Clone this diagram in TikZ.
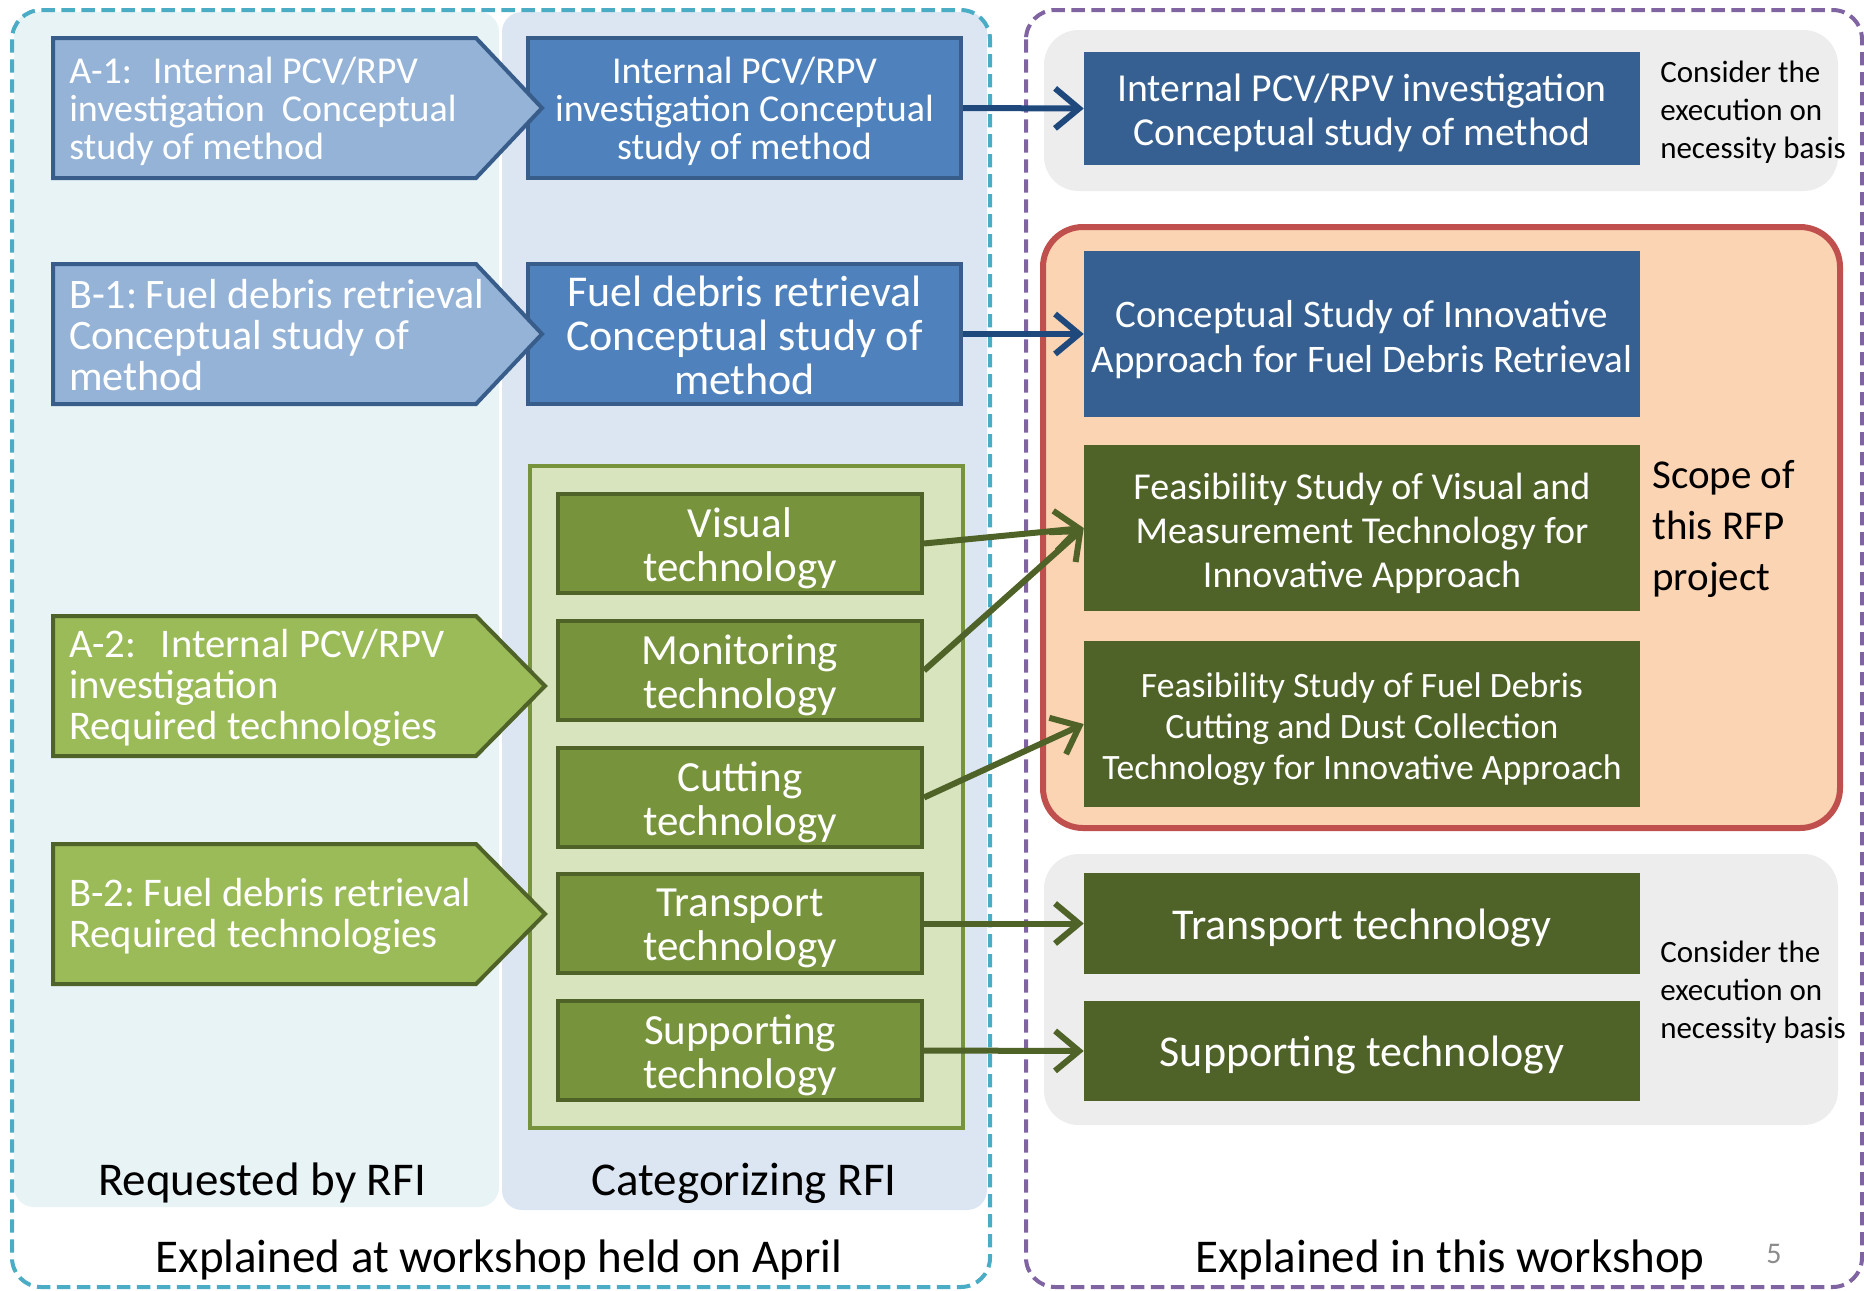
\documentclass[tikz,border=0pt]{standalone}
\usepackage{fontspec}
\setmainfont{Carlito}
\usetikzlibrary{arrows.meta}
\definecolor{reqbg}{HTML}{E8F3F6}
\definecolor{catbg}{HTML}{DCE6F2}
\definecolor{cyanD}{HTML}{4BACC6}
\definecolor{purpD}{HTML}{8064A2}
\definecolor{graybg}{HTML}{EDEDED}
\definecolor{peach}{HTML}{FBD4B4}
\definecolor{redB}{HTML}{C0504D}
\definecolor{bluelt}{HTML}{95B3D7}
\definecolor{bluemid}{HTML}{4F81BD}
\definecolor{bluedk}{HTML}{385D8A}
\definecolor{bluedeep}{HTML}{376092}
\definecolor{arrowblue}{HTML}{1F497D}
\definecolor{greenlt}{HTML}{D7E4BD}
\definecolor{greenpent}{HTML}{9BBB59}
\definecolor{greenmid}{HTML}{77933C}
\definecolor{greendk}{HTML}{4F6228}
\definecolor{pagenum}{HTML}{8C8C8C}
\tikzset{
  midbox/.style={draw=bluedk, fill=bluemid, line width=3pt,
    inner sep=0pt, minimum width=324.75pt, minimum height=105pt},
  techbox/.style={draw=greendk, fill=greenmid, line width=3pt,
    inner sep=0pt, minimum width=273pt, minimum height=74.25pt},
  rbox/.style={inner sep=0pt, minimum width=417pt},
  btext/.style={text=white, align=center, inner sep=0pt},
  techtext/.style={btext, yshift=-3.5pt, font=\fontsize{32.25}{33}\selectfont},
  ptext/.style={text=white, align=left, inner sep=0pt, anchor=west},
  bluearrow/.style={draw=arrowblue, line width=4.5pt, -{Straight Barb[length=18pt,width=30pt]}},
  greenarrow/.style={draw=greendk, line width=4.5pt, -{Straight Barb[length=18pt,width=30pt]}},
  note/.style={align=left, inner sep=0pt, anchor=west, text=black},
  caption/.style={inner sep=0pt, text=black, font=\fontsize{35.25}{40}\selectfont}
}
\begin{document}
\begin{tikzpicture}[x=0.75pt,y=-0.75pt]
\useasboundingbox (0,0) rectangle (1864,1290);
\fill[white] (0,0) rectangle (1864,1290);

% left group panels
\fill[reqbg, rounded corners=15pt] (14,12) rectangle (499,1207);
\fill[catbg, rounded corners=15pt] (502,12) rectangle (987,1210);
\draw[cyanD, line width=3pt, dash pattern=on 10pt off 5pt, rounded corners=22pt] (12,10) rectangle (990,1287);

% right group panels
\draw[purpD, line width=3pt, dash pattern=on 10pt off 5pt, rounded corners=22pt] (1026,10) rectangle (1862,1287);
\fill[graybg, rounded corners=26pt] (1044,30) rectangle (1838,191);
\filldraw[fill=peach, draw=redB, line width=4.5pt, rounded corners=30pt] (1043,227) rectangle (1840,828);
\fill[graybg, rounded corners=26pt] (1044,854) rectangle (1838,1125);

% green container
\filldraw[fill=greenlt, draw=greenmid, line width=2.5pt] (530,466) rectangle (963,1128);

% middle boxes
\node[midbox] (m1) at (744.5,108) {};
\node[btext, yshift=-2.5pt, font=\fontsize{28.5}{28.5}\selectfont] (m1t) at (m1.center)
  {Internal PCV/RPV\\investigation Conceptual\\study of method};
\node[midbox] (m2) at (744.5,334) {};
\node[btext, yshift=-1pt, font=\fontsize{33}{33}\selectfont] (m2t) at (m2.center)
  {Fuel debris retrieval\\Conceptual study of\\method};

\node[techbox] (vis) at (740,543.5) {};
\node[techtext] (vist) at (vis.center) {Visual\\technology};
\node[techbox] (mon) at (740,670.5) {};
\node[techtext] (mont) at (mon.center) {Monitoring\\technology};
\node[techbox] (cut) at (740,797.5) {};
\node[techtext] (cutt) at (cut.center) {Cutting\\technology};
\node[techbox] (tra) at (740,923.5) {};
\node[techtext] (trat) at (tra.center) {Transport\\technology};
\node[techbox] (sup) at (740,1050.5) {};
\node[techtext] (supt) at (sup.center) {Supporting\\technology};

% pentagons
\filldraw[fill=bluelt, draw=bluedk, line width=3pt, line join=miter]
  (53,38) -- (476,38) -- (542,108) -- (476,178) -- (53,178) -- cycle;
\node[ptext, yshift=-1.5pt, font=\fontsize{28.5}{28.5}\selectfont] (a1) at (69,109)
  {A-1:\hspace{0.55em}Internal PCV/RPV\\investigation\ \ Conceptual\\study of method};
\filldraw[fill=bluelt, draw=bluedk, line width=3pt, line join=miter]
  (53,264) -- (476,264) -- (542,334) -- (476,404) -- (53,404) -- cycle;
\node[ptext, font=\fontsize{31.5}{30.75}\selectfont] (b1) at (69,335)
  {B-1:\hspace{0.2em}Fuel debris retrieval\\Conceptual study of\\method};
\filldraw[fill=greenpent, draw=greendk, line width=3pt, line join=miter]
  (53,616) -- (476,616) -- (545,686) -- (476,756) -- (53,756) -- cycle;
\node[ptext, yshift=-1pt, font=\fontsize{30.5}{30.75}\selectfont] (a2) at (69,687)
  {A-2:\hspace{0.6em}Internal PCV/RPV\\investigation\\Required technologies};
\filldraw[fill=greenpent, draw=greendk, line width=3pt, line join=miter]
  (53,844) -- (476,844) -- (545,914) -- (476,984) -- (53,984) -- cycle;
\node[ptext, yshift=-1pt, font=\fontsize{30.5}{30.75}\selectfont] (b2) at (69,915)
  {B-2:\hspace{0.2em}Fuel debris retrieval\\Required technologies};

% right boxes
\node[rbox, fill=bluedeep, minimum height=84.75pt] (r1) at (1362,108.5) {};
\node[btext, yshift=-3.5pt, font=\fontsize{29.75}{33}\selectfont] (r1t) at (r1.center)
  {Internal PCV/RPV investigation\\Conceptual study of method};
\node[rbox, fill=bluedeep, minimum height=124.5pt] (r2) at (1362,334) {};
\node[btext, yshift=-4.5pt, font=\fontsize{29.25}{33.75}\selectfont] (r2t) at (r2.center)
  {Conceptual Study of Innovative\\Approach for Fuel Debris Retrieval};
\node[rbox, fill=greendk, minimum height=124.5pt] (r3) at (1362,528) {};
\node[btext, yshift=-4pt, font=\fontsize{28.5}{33}\selectfont] (r3t) at (r3.center)
  {Feasibility Study of Visual and\\Measurement Technology for\\Innovative Approach};
\node[rbox, fill=greendk, minimum height=124.5pt] (r4) at (1362,724) {};
\node[btext, yshift=-4pt, font=\fontsize{26.75}{30.75}\selectfont] (r4t) at (r4.center)
  {Feasibility Study of Fuel Debris\\Cutting and Dust Collection\\Technology for Innovative Approach};
\node[rbox, fill=greendk, minimum height=75.75pt] (r5) at (1362,923.5) {};
\node[btext, yshift=-3pt, font=\fontsize{33}{33}\selectfont] (r5t) at (r5.center)
  {Transport technology};
\node[rbox, fill=greendk, minimum height=75pt] (r6) at (1362,1051) {};
\node[btext, yshift=-3pt, font=\fontsize{33}{33}\selectfont] (r6t) at (r6.center)
  {Supporting technology};

% notes
\node[note, yshift=-1.5pt, font=\fontsize{23.25}{28.5}\selectfont] (n1) at (1660,110)
  {Consider the\\execution on\\necessity basis};
\node[note, yshift=-1.5pt, font=\fontsize{23.25}{28.5}\selectfont] (n2) at (1660,990)
  {Consider the\\execution on\\necessity basis};
\node[note, yshift=-2pt, font=\fontsize{30.75}{38.25}\selectfont] (scope) at (1652,526)
  {Scope of\\this RFP\\project};

% captions
\node[caption] (c1) at (262,1183) {Requested by RFI};
\node[caption] (c2) at (744,1183) {Categorizing RFI};
\node[caption] (c3) at (499,1260) {Explained at workshop held on April};
\node[caption] (c4) at (1450,1260) {Explained in this workshop};
\node[inner sep=0pt, text=pagenum, font=\fontsize{22.5}{24}\selectfont] (pg) at (1774,1254) {5};

% arrows
\draw[bluearrow] (m1.east) -- (r1.west);
\draw[bluearrow] (m2.east) -- (r2.west);
\draw[greenarrow] (vis.east) -- (r3.west);
\draw[greenarrow] (mon.east) -- (r3.west);
\draw[greenarrow] (cut.east) -- (r4.west);
\draw[greenarrow] (tra.east) -- (r5.west);
\draw[greenarrow] (sup.east) -- (r6.west);
\end{tikzpicture}
\end{document}
